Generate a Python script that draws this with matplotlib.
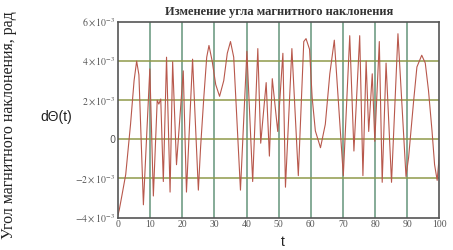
import matplotlib
matplotlib.use('Agg')
import matplotlib.pyplot as plt

# точки (t, dθ в единицах 1e-3 рад)
t_vals = [0.0, 0.4, 1.3, 2.4, 3.9, 5.0, 5.8, 6.5, 7.9, 9.9, 11.0, 12.2, 12.7, 13.3,
          14.1, 15.1, 16.2, 17.0, 18.2, 20.3, 21.3, 23.2, 25.0, 25.7, 26.7, 27.6,
          28.3, 29.3, 30.4, 31.6, 32.9, 34.0, 35.0, 36.0, 36.9, 38.1, 40.1, 41.9,
          43.5, 44.4, 46.1, 47.1, 48.0, 49.7, 51.3, 52.1, 54.1, 56.1, 57.8, 58.5,
          59.6, 60.4, 61.4, 63.0, 64.5, 65.9, 67.3, 70.1, 72.1, 73.4, 75.2, 76.2,
          77.2, 78.0, 79.1, 79.9, 81.3, 82.2, 83.4, 85.1, 87.1, 89.6, 90.4, 92.0,
          93.0, 94.5, 95.6, 96.6, 97.7, 98.5, 99.3, 100.0]
d_vals = [-3.87, -3.6, -2.8, -1.8, 0.77, 3.0, 4.0, 3.3, -3.35, 3.6, -2.9, 2.0, 1.8, 2.06,
          -2.16, 4.2, -2.7, 3.97, -1.3, 3.5, -2.7, 4.1, -2.6, -0.4, 2.15, 4.2,
          4.8, 4.0, 2.8, 2.2, 3.0, 4.4, 5.0, 4.2, 1.3, -2.6, 4.5, -2.16,
          4.64, -0.2, 2.9, -0.86, 3.1, 0.4, 4.4, -2.45, 4.64, -1.86, 5.0, 5.15,
          4.6, 2.15, 0.43, -0.43, 0.77, 3.35, 5.07, -1.86, 5.3, -0.6, 5.3, -1.86,
          4.0, 0.4, 3.35, -0.1, 5.0, -2.2, 3.9, -2.2, 5.4, -1.9, -0.95, 2.0,
          3.7, 4.3, 3.9, 2.5, 0.43, -1.3, -2.1, -0.77]
y_ticks = [-4, -2, 0, 2, 4, 6]
x_ticks = [0, 10, 20, 30, 40, 50, 60, 70, 80, 90, 100]

plt.rcParams['mathtext.fontset'] = 'stix'

fig = plt.figure(figsize=(4.53, 2.50), dpi=100)
ax = fig.add_axes([0.2605, 0.13, 0.7095, 0.782])

ax.plot(t_vals, [d * 1e-3 for d in d_vals], color='#b8584c', linewidth=0.8)

ax.set_xlim(0, 100)
ax.set_ylim(-4e-3, 6e-3)
ax.set_xticks(x_ticks)
ax.set_yticks([v * 1e-3 for v in y_ticks])
ax.set_xticklabels([str(x) for x in x_ticks], family='Liberation Serif', fontsize=7, color='#555555')
ylabs = ['0' if v == 0 else r'$%d\times10^{-3}$' % v for v in y_ticks]
ax.set_yticklabels(ylabs, fontsize=7, color='#555555')
ax.tick_params(length=0, pad=2)

for x in x_ticks[1:-1]:
    ax.axvline(x, color='#64947a', linewidth=1.1, zorder=0)
for v in y_ticks[1:-1]:
    ax.axhline(v * 1e-3, color='#8f9a4a', linewidth=1.1, zorder=0)

for s in ax.spines.values():
    s.set_color('#555555')
    s.set_linewidth(1.2)

ax.set_title('Изменение угла магнитного наклонения', family='Liberation Serif',
             fontsize=9, fontweight='bold', color='#333333', pad=5)
fig.text(0.124, 0.53, 'dΘ(t)', family='Liberation Sans', fontsize=10,
         ha='center', va='center', color='#222222')
fig.text(0.625, 0.03, 't', family='Liberation Sans', fontsize=10,
         ha='center', va='center', color='#222222')
fig.text(0.02, 0.5, 'Угол магнитного наклонения, рад', family='Liberation Serif',
         fontsize=11.5, rotation=90, ha='center', va='center', color='#222222')

fig.savefig('out.png', dpi=100)
